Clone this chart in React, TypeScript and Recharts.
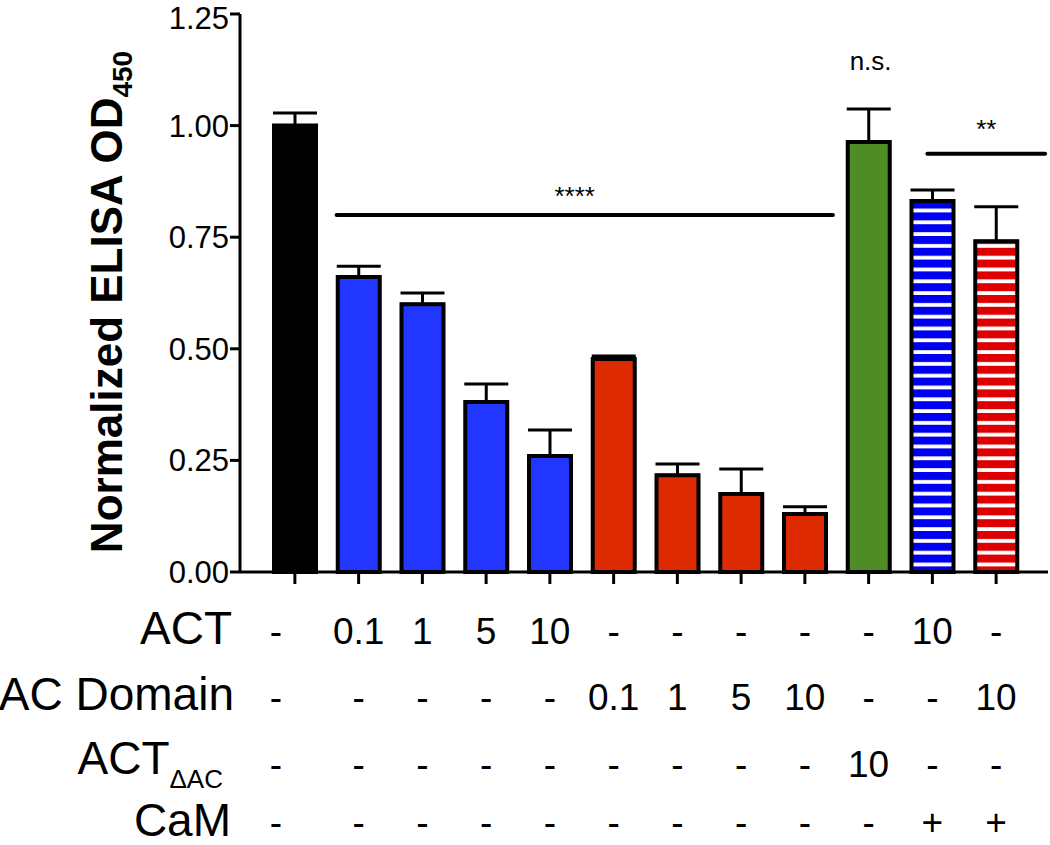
import { BarChart, Bar, XAxis, YAxis, Cell, ErrorBar, ReferenceLine, ReferenceDot } from "recharts";

const FONT = "'Liberation Sans', Arial, Helvetica, sans-serif";

const categories = ["ctrl", "act01", "act1", "act5", "act10", "acd01", "acd1", "acd5", "acd10", "dac10", "actCam", "acdCam"];
const values = [1.0, 0.661, 0.6, 0.381, 0.26, 0.477, 0.217, 0.175, 0.13, 0.963, 0.831, 0.741];
const errors = [0.028, 0.024, 0.025, 0.04, 0.058, 0.007, 0.025, 0.056, 0.016, 0.074, 0.025, 0.077];
const fills = ["#000000", "#2137ff", "#2137ff", "#2137ff", "#2137ff", "#dd2a00", "#dd2a00", "#dd2a00", "#dd2a00", "#4f8c23", "url(#stripeBlue)", "url(#stripeRed)"];

const yTicks = [0, 0.25, 0.5, 0.75, 1.0, 1.25];

const actRow = ["-", "0.1", "1", "5", "10", "-", "-", "-", "-", "-", "10", "-"];
const acDomainRow = ["-", "-", "-", "-", "-", "0.1", "1", "5", "10", "-", "-", "10"];
const actDeltaRow = ["-", "-", "-", "-", "-", "-", "-", "-", "-", "10", "-", "-"];
const camRow = ["-", "-", "-", "-", "-", "-", "-", "-", "-", "-", "+", "+"];

const data = categories.map((c, i) => ({
  name: c,
  value: values[i],
  err: [0, errors[i]],
}));

// row baselines in px (page coords)
const ROW_Y = [644, 710, 777, 835];

const TableTick = (props: any) => {
  const { x, index } = props;
  const cx = index === 0 ? x - 19 : x;
  const rows = [actRow, acDomainRow, actDeltaRow, camRow];
  return (
    <g fontFamily={FONT} fill="#000">
      {index === 0 && (
        <g fontSize={46} textAnchor="end">
          <text x={232} y={ROW_Y[0]}>ACT</text>
          <text x={234} y={ROW_Y[1]}>AC Domain</text>
          <text x={223} y={ROW_Y[2] - 3}>
            ACT<tspan fontSize={26} dy={14}>ΔAC</tspan>
          </text>
          <text x={231} y={ROW_Y[3] + 1}>CaM</text>
        </g>
      )}
      {rows.map((r, k) => (
        <text key={k} x={cx} y={ROW_Y[k]} textAnchor="middle" fontSize={37}>
          {r[index]}
        </text>
      ))}
    </g>
  );
};

const YTitle = () => (
  <text
    x={122}
    y={302}
    transform="rotate(-90, 122, 302)"
    textAnchor="middle"
    fontFamily={FONT}
    fontWeight="bold"
    fontSize={44}
    fill="#000"
  >
    Normalized ELISA OD<tspan fontSize={28} dy={10}>450</tspan>
  </text>
);

const sigLine = (dx1: number, dx2: number, label: string, textDx: number, textDy: number) => (p: any) => {
  const x1 = p.x1 + dx1;
  const x2 = p.x2 + dx2;
  return (
    <g>
      <line x1={x1} y1={p.y1} x2={x2} y2={p.y2} stroke="#000" strokeWidth={4} strokeLinecap="round" />
      <text x={(x1 + x2) / 2 + textDx} y={p.y1 + textDy} textAnchor="middle" fontFamily={FONT} fontSize={26} fill="#000">
        {label}
      </text>
    </g>
  );
};

export default function App() {
  return (
    <div style={{ position: "absolute", left: 0, top: 0, width: 1050, height: 845, background: "#fff" }}>
      <BarChart width={1050} height={845} data={data} margin={{ top: 14, right: 2, left: 0, bottom: 0 }} barSize={42}>
        <defs>
          <pattern id="stripeBlue" patternUnits="userSpaceOnUse" width={12} height={11.8}>
            <rect x={0} y={0} width={12} height={11.8} fill="#ffffff" />
            <rect x={0} y={0} width={12} height={8} fill="#0000f0" />
          </pattern>
          <pattern id="stripeRed" patternUnits="userSpaceOnUse" width={12} height={11.8}>
            <rect x={0} y={0} width={12} height={11.8} fill="#ffffff" />
            <rect x={0} y={0} width={12} height={8} fill="#dd0000" />
          </pattern>
        </defs>
        <XAxis
          dataKey="name"
          height={273}
          padding={{ left: 23, right: 20 }}
          axisLine={{ stroke: "#000", strokeWidth: 3 }}
          tickLine={{ stroke: "#000", strokeWidth: 3 }}
          tickSize={12}
          interval={0}
          tick={<TableTick />}
        />
        <YAxis
          width={240}
          domain={[0, 1.25]}
          ticks={yTicks}
          tickFormatter={(v: number) => v.toFixed(2)}
          axisLine={{ stroke: "#000", strokeWidth: 3 }}
          tickLine={{ stroke: "#000", strokeWidth: 3 }}
          tickSize={10}
          tickMargin={1}
          tick={{ fontSize: 31, fill: "#000", fontFamily: FONT }}
          label={<YTitle />}
        />
        <Bar dataKey="value" stroke="#000" strokeWidth={4} isAnimationActive={false}>
          {data.map((_, i) => (
            <Cell key={i} fill={fills[i]} />
          ))}
          <ErrorBar dataKey="err" width={22} strokeWidth={3} stroke="#000" direction="y" isAnimationActive={false} />
        </Bar>
        <ReferenceLine
          segment={[{ x: categories[1], y: 0.8 }, { x: categories[8], y: 0.8 }]}
          ifOverflow="visible"
          shape={sigLine(-22, 28, "****", -10, -10)}
        />
        <ReferenceLine
          segment={[{ x: categories[10], y: 0.937 }, { x: categories[11], y: 0.937 }]}
          ifOverflow="visible"
          shape={sigLine(-5, 49, "**", 0, -16)}
        />
        <ReferenceDot
          x={categories[9]}
          y={1.14}
          r={0}
          ifOverflow="visible"
          shape={(p: any) => (
            <text x={p.cx + 2} y={p.cy + 7} textAnchor="middle" fontFamily={FONT} fontSize={26} fill="#000">
              n.s.
            </text>
          )}
        />
      </BarChart>
    </div>
  );
}
